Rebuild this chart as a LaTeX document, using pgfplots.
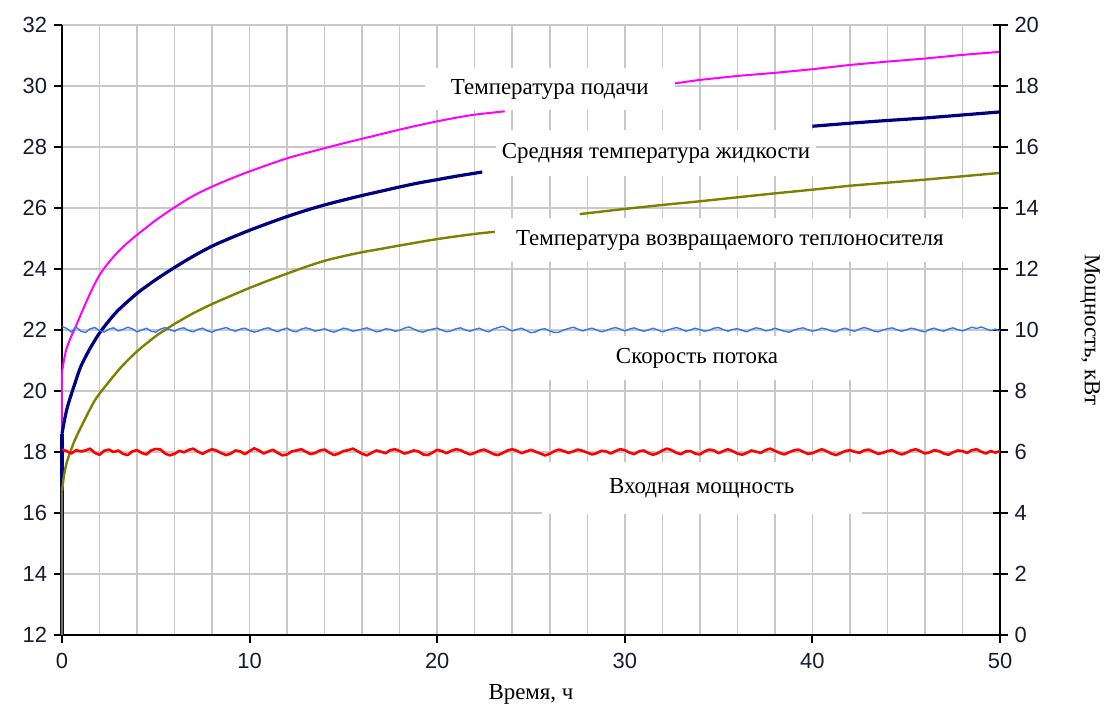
\documentclass[border=0pt]{standalone}
\usepackage{fontspec}
\setmainfont{Liberation Serif}
\newfontfamily\tickfont{Liberation Sans}
\usepackage{pgfplots}
\pgfplotsset{compat=1.18}
\definecolor{cPink}{RGB}{255,0,255}
\definecolor{cNavy}{RGB}{0,0,128}
\definecolor{cOlive}{RGB}{128,128,0}
\definecolor{cBlue}{RGB}{51,119,238}
\definecolor{cRed}{RGB}{255,0,0}
\definecolor{cGrid}{RGB}{200,200,200}
\definecolor{cTick}{RGB}{25,25,50}
\begin{document}
\begin{tikzpicture}
\begin{axis}[
  scale only axis, width=469bp, height=305bp,
  xmin=0, xmax=50, ymin=12, ymax=32,
  axis x line*=bottom, axis y line*=left,
  every outer x axis line/.append style={-},
  every outer y axis line/.append style={-},
  xtick pos=bottom, ytick pos=left,
  xtick={0,10,...,50}, ytick={12,14,...,32},
  minor x tick num=4,
  minor tick length=0pt,
  major tick length=4bp,
  tick align=outside,
  grid=both,
  major grid style={cGrid, line width=0.75bp},
  minor grid style={cGrid, line width=0.75bp},
  axis line style={-, black, line width=1bp},
  major tick style={black, line width=1bp},
  ticklabel style={font=\tickfont\fontsize{11}{13}\selectfont, text=cTick},
  xticklabel style={yshift=-1.5bp},
  /pgf/number format/assume math mode=true,
  xlabel={Время, ч},
  every axis x label/.style={at={(rel axis cs:0.5,0)}, yshift=-29.5bp, anchor=center, font=\fontsize{11.5}{13}\selectfont},
  clip=false,
]
\coordinate (SW) at (rel axis cs:0,0);
\coordinate (NE) at (rel axis cs:1,1);
% supply temperature
\addplot[cPink, line width=1bp] coordinates {(0,12)(0,20.6)};
\addplot[cPink, line width=1bp, smooth] coordinates {
 (0,20.6)(0.1,21.0)(0.25,21.4)(0.5,21.8)(0.69,22.05)(1,22.5)(1.5,23.2)(2,23.8)(2.5,24.22)(3,24.57)(3.5,24.86)(4,25.12)(4.5,25.36)(5,25.6)(6,26.02)(7,26.4)(8,26.7)(9,26.96)(10,27.2)(11,27.42)(12,27.63)(13,27.8)(14,27.96)(15,28.12)(16,28.27)(17,28.42)(18,28.57)(19,28.71)(20,28.84)(21,28.96)(22,29.06)(23,29.13)(23.6,29.17)};
\addplot[cPink, line width=1bp] coordinates {
 (32.6,30.08)(34,30.2)(36,30.33)(38,30.43)(40,30.55)(42,30.69)(44,30.8)(46,30.9)(48,31.02)(50,31.12)};
% mean fluid temperature
\addplot[cNavy, line width=1.6bp] coordinates {(0,12)(0,18.6)};
\addplot[cNavy, line width=1.6bp, smooth] coordinates {
 (0,18.6)(0.15,19.1)(0.3,19.5)(0.5,19.9)(0.69,20.25)(1,20.8)(1.5,21.4)(2,21.9)(2.5,22.3)(3,22.65)(4,23.2)(5,23.65)(6,24.05)(7,24.42)(8,24.75)(9,25.02)(10,25.27)(11,25.5)(12,25.72)(13,25.92)(14,26.1)(15,26.26)(16,26.41)(17,26.55)(18,26.69)(19,26.82)(20,26.93)(21,27.04)(22,27.14)(22.4,27.18)};
\addplot[cNavy, line width=1.6bp] coordinates {
 (40,28.68)(42,28.78)(44,28.87)(46,28.95)(48,29.05)(50,29.15)};
% return temperature
\addplot[cOlive, line width=1.2bp] coordinates {(0,12)(0,16.7)};
\addplot[cOlive, line width=1.2bp, smooth] coordinates {
 (0,16.7)(0.1,17.2)(0.25,17.65)(0.5,18.1)(0.69,18.4)(1,18.8)(1.76,19.7)(2.5,20.3)(3.18,20.8)(4,21.3)(5,21.8)(5.5,22.0)(6,22.2)(7,22.55)(8,22.85)(9,23.12)(10,23.38)(11,23.62)(12,23.85)(13,24.07)(14,24.27)(15,24.42)(16,24.55)(17,24.66)(18,24.77)(20,24.98)(22,25.15)(23.1,25.22)};
\addplot[cOlive, line width=1.2bp] coordinates {
 (27.6,25.8)(30,25.97)(32,26.1)(34,26.22)(36,26.35)(38,26.48)(40,26.6)(42,26.73)(44,26.83)(46,26.93)(48,27.04)(50,27.15)};
\end{axis}
\begin{axis}[
  scale only axis, width=469bp, height=305bp,
  xmin=0, xmax=50, ymin=0, ymax=20,
  axis x line=none, axis y line*=right,
  every outer y axis line/.append style={-},
  ytick pos=right, yticklabel pos=right,
  ytick={0,2,...,20},
  tick align=center,
  major tick length=7.5bp,
  axis line style={-, black, line width=1bp},
  major tick style={black, line width=1bp},
  ticklabel style={font=\tickfont\fontsize{11}{13}\selectfont, text=cTick},
  /pgf/number format/assume math mode=true,
  ylabel={Мощность, кВт},
  every axis y label/.style={at={(rel axis cs:1,0.5)}, xshift=45bp, anchor=center, rotate=-90, font=\fontsize{11.5}{13}\selectfont},
  clip=false,
]
% flow rate
\addplot[cBlue, line width=0.7bp, line join=round] coordinates {
(0,10.12)(0.25,10.05)(0.5,9.93)(0.75,10.10)(1,9.96)(1.25,9.92)(1.5,10.04)(1.75,10.08)
(2,9.98)(2.25,9.93)(2.5,10.03)(2.75,10.07)(3,9.97)(3.25,10.02)(3.5,10.09)(3.75,10.04)
(4,9.94)(4.25,10.00)(4.5,10.06)(4.75,9.96)(5,9.93)(5.25,10.03)(5.5,10.08)(5.75,10.01)
(6,9.96)(6.25,10.04)(6.5,10.07)(6.75,9.98)(7,9.94)(7.25,10.02)(7.5,10.06)(7.75,9.97)
(8,9.93)(8.25,10.00)(8.5,10.04)(8.75,10.08)(9,10.01)(9.25,9.96)(9.5,10.03)(9.75,10.06)
(10,9.98)(10.25,9.93)(10.5,9.97)(10.75,10.04)(11,10.07)(11.25,10.00)(11.5,9.94)(11.75,10.02)
(12,10.06)(12.25,9.97)(12.5,9.94)(12.75,10.03)(13,10.07)(13.25,10.03)(13.5,9.96)(13.75,10.00)
(14,10.04)(14.25,9.97)(14.5,9.93)(14.75,9.99)(15,10.06)(15.25,10.03)(15.5,9.96)(15.75,9.99)
(16,10.03)(16.25,10.07)(16.5,10.01)(16.75,9.94)(17,9.97)(17.25,10.04)(17.5,10.02)(17.75,9.96)
(18,9.99)(18.25,10.06)(18.5,10.10)(18.75,10.03)(19,9.96)(19.25,9.93)(19.5,9.99)(19.75,10.03)
(20,10.06)(20.25,10.00)(20.5,9.94)(20.75,9.97)(21,10.04)(21.25,10.07)(21.5,10.00)(21.75,9.96)
(22,10.02)(22.25,10.06)(22.5,9.98)(22.75,9.94)(23,10.03)(23.25,10.08)(23.5,10.12)(23.75,10.04)
(24,9.97)(24.25,10.02)(24.5,10.06)(24.75,9.98)(25,9.91)(25.25,9.94)(25.5,10.02)(25.75,10.04)
(26,9.97)(26.25,9.92)(26.5,9.93)(26.75,10.00)(27,10.05)(27.25,10.09)(27.5,10.03)(27.75,9.97)
(28,10.02)(28.25,10.06)(28.5,10.00)(28.75,9.94)(29,9.98)(29.25,10.04)(29.5,10.08)(29.75,10.03)
(30,9.97)(30.25,10.03)(30.5,10.07)(30.75,10.01)(31,9.96)(31.25,10.00)(31.5,10.06)(31.75,10.00)
(32,9.94)(32.25,9.99)(32.5,10.04)(32.75,10.08)(33,10.03)(33.25,9.96)(33.5,10.00)(33.75,10.06)
(34,10.01)(34.25,9.96)(34.5,9.99)(34.75,10.06)(35,10.08)(35.25,10.01)(35.5,9.96)(35.75,10.02)
(36,10.04)(36.25,9.99)(36.5,9.94)(36.75,10.02)(37,10.07)(37.25,10.04)(37.5,9.97)(37.75,10.00)
(38,10.06)(38.25,10.01)(38.5,9.96)(38.75,9.93)(39,9.99)(39.25,10.04)(39.5,10.07)(39.75,10.01)
(40,9.96)(40.25,10.00)(40.5,10.06)(40.75,10.03)(41,9.97)(41.25,9.94)(41.5,10.02)(41.75,10.06)
(42,10.00)(42.25,9.96)(42.5,10.03)(42.75,10.08)(43,10.04)(43.25,9.97)(43.5,9.94)(43.75,10.00)
(44,10.04)(44.25,10.07)(44.5,10.01)(44.75,9.96)(45,10.00)(45.25,10.06)(45.5,10.03)(45.75,9.97)
(46,9.94)(46.25,10.02)(46.5,10.06)(46.75,10.00)(47,9.96)(47.25,10.03)(47.5,10.07)(47.75,10.01)
(48,9.97)(48.25,10.03)(48.5,10.09)(48.75,10.05)(49,10.10)(49.25,10.04)(49.5,9.98)(49.75,10.03)
(50,9.96)};
% input power
\addplot[cRed, line width=1.3bp, line join=round] coordinates {
(0,6.08)(0.25,6.03)(0.5,5.95)(0.75,6.06)(1,6.02)(1.25,6.05)(1.5,6.11)(1.75,5.97)
(2,5.91)(2.25,6.04)(2.5,6.08)(2.75,6.00)(3,6.05)(3.25,5.94)(3.5,5.90)(3.75,6.02)
(4,6.06)(4.25,5.97)(4.5,5.92)(4.75,6.05)(5,6.10)(5.25,6.08)(5.5,5.95)(5.75,5.89)
(6,5.94)(6.25,6.04)(6.5,5.99)(6.75,6.07)(7,6.11)(7.25,6.01)(7.5,5.94)(7.75,6.03)
(8,6.09)(8.25,6.04)(8.5,5.96)(8.75,5.90)(9,5.95)(9.25,6.05)(9.5,6.02)(9.75,5.93)
(10,6.03)(10.25,6.12)(10.5,6.05)(10.75,5.95)(11,6.02)(11.25,6.07)(11.5,5.97)(11.75,5.89)
(12,5.92)(12.25,6.02)(12.5,6.05)(12.75,6.09)(13,6.01)(13.25,5.93)(13.5,5.97)(13.75,6.05)
(14,6.08)(14.25,5.98)(14.5,5.90)(14.75,5.95)(15,6.03)(15.25,6.06)(15.5,6.11)(15.75,6.03)
(16,5.94)(16.25,5.89)(16.5,5.97)(16.75,6.05)(17,6.01)(17.25,5.96)(17.5,6.06)(17.75,6.09)
(18,6.03)(18.25,5.95)(18.5,5.99)(18.75,6.05)(19,6.02)(19.25,5.92)(19.5,5.90)(19.75,5.98)
(20,6.07)(20.25,6.03)(20.5,5.96)(20.75,6.04)(21,6.09)(21.25,6.06)(21.5,5.98)(21.75,5.92)
(22,5.97)(22.25,6.04)(22.5,6.08)(22.75,6.01)(23,5.93)(23.25,5.90)(23.5,5.97)(23.75,6.05)
(24,6.09)(24.25,6.04)(24.5,5.96)(24.75,6.02)(25,6.07)(25.25,6.01)(25.5,5.95)(25.75,5.89)
(26,5.94)(26.25,6.03)(26.5,6.08)(26.75,6.03)(27,5.97)(27.25,6.02)(27.5,6.08)(27.75,6.04)
(28,5.98)(28.25,5.92)(28.5,5.96)(28.75,6.04)(29,6.02)(29.25,5.95)(29.5,6.03)(29.75,6.09)
(30,6.06)(30.25,5.98)(30.5,5.93)(30.75,6.02)(31,6.05)(31.25,5.97)(31.5,5.91)(31.75,5.96)
(32,6.05)(32.25,6.11)(32.5,6.06)(32.75,5.97)(33,5.93)(33.25,6.02)(33.5,6.03)(33.75,5.95)
(34,5.92)(34.25,6.02)(34.5,6.08)(34.75,6.05)(35,5.96)(35.25,6.03)(35.5,6.09)(35.75,6.03)
(36,5.95)(36.25,5.91)(36.5,5.97)(36.75,6.05)(37,6.01)(37.25,5.97)(37.5,6.06)(37.75,6.11)
(38,6.04)(38.25,5.97)(38.5,5.92)(38.75,5.99)(39,6.05)(39.25,6.08)(39.5,6.01)(39.75,5.94)
(40,5.96)(40.25,6.03)(40.5,6.09)(40.75,6.03)(41,5.95)(41.25,5.90)(41.5,5.96)(41.75,6.03)
(42,6.06)(42.25,6.01)(42.5,5.97)(42.75,6.05)(43,6.08)(43.25,6.01)(43.5,5.94)(43.75,5.97)
(44,6.03)(44.25,6.06)(44.5,5.98)(44.75,5.92)(45,5.97)(45.25,6.05)(45.5,6.09)(45.75,6.03)
(46,5.95)(46.25,5.99)(46.5,6.06)(46.75,6.03)(47,5.95)(47.25,5.91)(47.5,5.99)(47.75,6.05)
(48,6.03)(48.25,5.97)(48.5,6.06)(48.75,6.09)(49,6.01)(49.25,5.95)(49.5,6.03)(49.75,5.98)
(50,6.03)};
% labels (kW scale: y = temperature - 12)
\begin{scope}[every node/.style={fill=white, inner sep=0pt, font=\fontsize{11.5}{13}\selectfont}]
\node[minimum width=125bp, minimum height=21bp] at (axis cs:26.0,17.9) {Температура подачи};
\node[minimum width=160bp, minimum height=23bp] at (axis cs:31.66,15.8) {Средняя температура жидкости};
\node[minimum width=235bp, minimum height=22bp] at (axis cs:35.6,12.95) {Температура возвращаемого теплоносителя};
\node[minimum width=160bp, minimum height=22bp] at (axis cs:33.85,9.08) {Скорость потока};
\node[minimum width=160bp, minimum height=26bp] at (axis cs:34.1,4.82) {Входная мощность};
\end{scope}
\end{axis}
\pgfresetboundingbox
\path ([shift={(-31bp,-34.5bp)}]SW) rectangle ([shift={(52bp,12.5bp)}]NE);
\end{tikzpicture}
\end{document}
